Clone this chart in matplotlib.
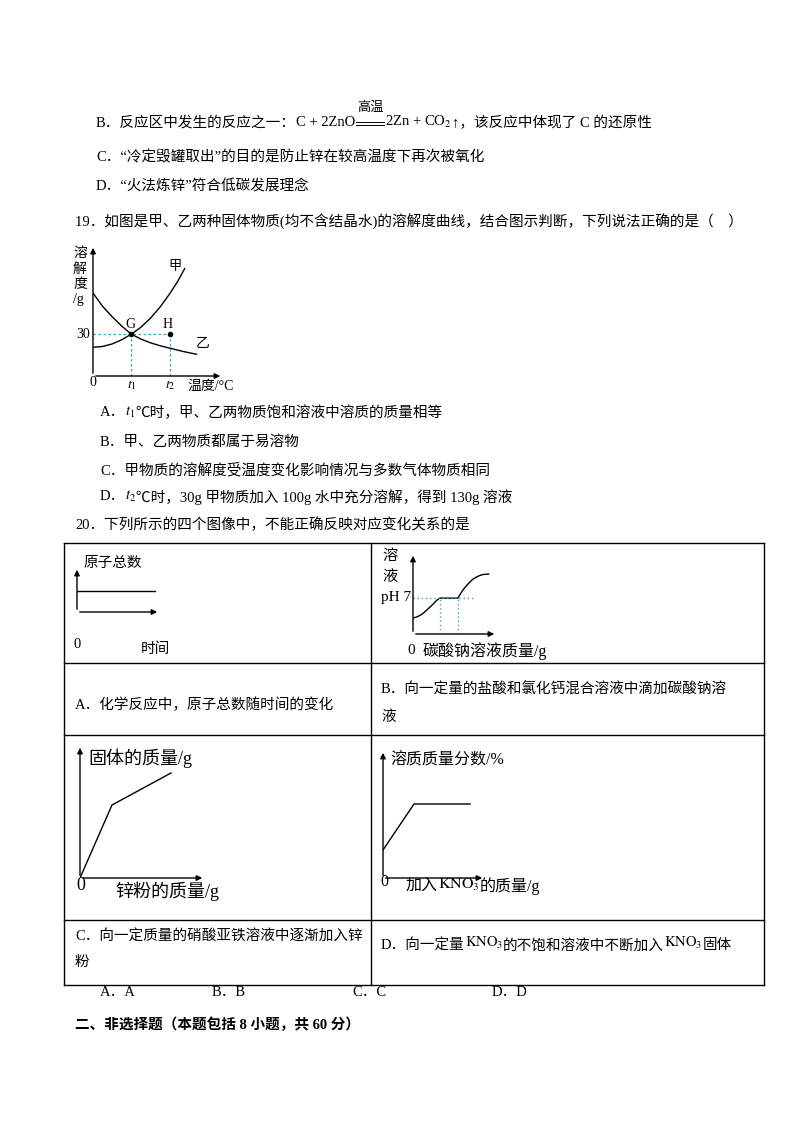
import matplotlib.pyplot as plt
import numpy as np

plt.rcParams['font.family'] = ['Liberation Serif', 'Noto Sans CJK SC']
plt.rcParams['mathtext.fontset'] = 'stix'

# solubility curves (t1=1, t2=2)
jia_x = [0, 0.25, 0.5, 0.75, 1, 1.25, 1.5, 1.75, 2, 2.2, 2.39]
jia_y = [20.6, 21.2, 23, 26, 30, 35, 41.5, 49.5, 59, 67.5, 77]
yi_x = [0, 0.25, 0.5, 0.75, 1, 1.25, 1.5, 1.75, 2, 2.35, 2.7]
yi_y = [59.5, 50, 42.5, 35.8, 30, 26.5, 23.8, 21.7, 20, 17.6, 15.6]
# pH curve
ph_x = [0, 1, 2, 3, 4, 5, 6, 7, 8, 13.5, 14, 15, 16, 17, 18, 19, 20, 21, 22.7]
ph_y = [3.1, 3.3, 3.6, 4.0, 4.6, 5.2, 5.8, 6.5, 7, 7, 7.6, 8.6, 9.4, 10.1, 10.7, 11.1, 11.4, 11.6, 11.7]
# solid mass / solute fraction
solid_x = [0, 32, 91]
solid_y = [0, 73, 105]
frac_x = [0, 31, 87]
frac_y = [28, 74, 74]

fig = plt.figure(figsize=(8, 11.32), dpi=100)
bg = fig.add_axes([0, 0, 1, 1])
bg.set_xlim(0, 800); bg.set_ylim(1132, 0); bg.axis('off')
rend = fig.canvas.get_renderer()
fs = 10.5

def t(x, y, s, **kw):
    kw.setdefault('fontsize', fs)
    return bg.text(x, y, s, va='center', ha=kw.pop('ha', 'left'), **kw)

def line(x, y, parts, **kw):
    # draw text pieces one after another (mathtext pieces lose the CJK fallback)
    for p in parts:
        dy = 0
        if isinstance(p, tuple):
            p, dy = p
        txt = t(x, y + dy, p, **kw)
        bb = txt.get_window_extent(rend)
        x += bb.width * 800 / fig.bbox.width
    return x

x = line(96, 123, ["B．反应区中发生的反应之一：", "C + 2ZnO"]) + 1
bg.plot([x, x + 28], [122, 122], color='k', lw=0.7)
bg.plot([x, x + 28], [125, 125], color='k', lw=0.7)
t(x + 14, 108, "高温", ha='center', fontsize=9.5)
line(x + 29, 123, [(r"2Zn + CO$_2$", -1), "↑，该反应中体现了 C 的还原性"])
t(96, 157, "C．“冷定毁罐取出”的目的是防止锌在较高温度下再次被氧化")
t(96, 187, "D．“火法炼锌”符合低碳发展理念")
t(75, 222, "19．如图是甲、乙两种固体物质(均不含结晶水)的溶解度曲线，结合图示判断，下列说法正确的是（    ）")
line(100, 413, ["A．", ("$t_1$", -1), "℃时，甲、乙两物质饱和溶液中溶质的质量相等"])
t(100, 442, "B．甲、乙两物质都属于易溶物")
t(100, 470, "C．甲物质的溶解度受温度变化影响情况与多数气体物质相同")
line(100, 497, ["D．", ("$t_2$", -1), "℃时，30g 甲物质加入 100g 水中充分溶解，得到 130g 溶液"])
t(75, 525, "20．下列所示的四个图像中，不能正确反映对应变化关系的是")

# table
for yy in [543, 663, 735, 920, 985]:
    bg.plot([64, 764], [yy, yy], color='k', lw=1)
for xx in [64, 371, 764]:
    bg.plot([xx, xx], [543, 985], color='k', lw=1)
t(75, 705, "A．化学反应中，原子总数随时间的变化")
t(381, 690, "B．向一定量的盐酸和氯化钙混合溶液中滴加碳酸钠溶")
t(381, 717, "液")
t(75, 937, "C．向一定质量的硝酸亚铁溶液中逐渐加入锌")
t(75, 962, "粉")
line(381, 946, ["D．向一定量", ("$\\mathrm{KNO_3}$", -3), "的不饱和溶液中不断加入", ("$\\mathrm{KNO_3}$", -3), "固体"])
for x, s in zip([100, 212, 352, 492], ["A．A", "B．B", "C．C", "D．D"]):
    t(x, 993, s)
t(75, 1025, "二、非选择题（本题包括 8 小题，共 60 分）", fontweight='bold')

def inset(x0, y0, x1, y1, xlim, ylim):
    ax = fig.add_axes([x0 / 800, 1 - y0 / 1132, (x1 - x0) / 800, (y0 - y1) / 1132])
    ax.set_xlim(*xlim); ax.set_ylim(*ylim); ax.axis('off')
    ax.set_zorder(2); ax.patch.set_alpha(0)
    kw = dict(arrowprops=dict(arrowstyle='-|>', color='k', lw=1, mutation_scale=8),
              xycoords='axes fraction', textcoords='axes fraction')
    ax.annotate('', xy=(1, 0), xytext=(0, 0), **kw)
    ax.annotate('', xy=(0, 1), xytext=(0, 0), **kw)
    return ax

# graph 19
ax = inset(93, 376, 223, 245, (0, 3.39), (0, 94))
ax.plot(jia_x, jia_y, color='k', lw=1)
ax.plot(yi_x, yi_y, color='k', lw=1)
ax.plot([0, 2], [30, 30], ls=(0, (2, 2)), color='#2aa7d8', lw=0.9)
for xx in [1, 2]:
    ax.plot([xx, xx], [0, 30], ls=(0, (2, 2)), color='#2aa7d8', lw=0.9)
ax.plot([1, 2], [30, 30], 'ko', ms=3)
t(73, 253, "溶", fontsize=10); t(73, 269, "解", fontsize=10)
t(73, 285, "度", fontsize=10); t(73, 300, "/g", fontsize=10)
t(168, 267, "甲", fontsize=9.5); t(196, 344, "乙", fontsize=10)
t(125, 324, "G", fontsize=10); t(163, 325, "H", fontsize=10)
t(76, 335, "30", fontsize=10)
t(89, 383, "0", fontsize=10)
t(127, 385, "$t_1$", fontsize=10); t(165, 385, "$t_2$", fontsize=10)
t(187, 386, "温度/°C", fontsize=10)

# graph A
ax = inset(77, 612, 160, 567, (0, 1), (0, 1))
ax.plot([0, 0.94], [0.47, 0.47], color='k', lw=1)
t(83, 563, "原子总数"); t(73, 645, "0"); t(141, 649, "时间")

# graph B
ax = inset(413, 634, 497, 553, (0, 25.2), (0, 15.8))
ax.plot(ph_x, ph_y, color='k', lw=1)
ax.plot([0, 18.5], [7, 7], ls=(0, (1, 2)), color='#2aa7d8', lw=1)
for xx in [8, 13.5]:
    ax.plot([xx, xx], [0, 7], ls=(0, (1, 2)), color='#2aa7d8', lw=1)
t(382, 556, "溶", fontsize=11); t(382, 577, "液", fontsize=11)
t(381, 598, "pH 7", fontsize=11)
t(407, 650, "0", fontsize=11); t(423, 651, "碳酸钠溶液质量/g", fontsize=11.5)

# graph C
ax = inset(80, 878, 205, 745, (0, 125), (0, 133))
ax.plot(solid_x, solid_y, color='k', lw=1)
t(88, 758, "固体的质量/g", fontsize=13)
t(76, 885, "0", fontsize=13); t(115, 891, "锌粉的质量/g", fontsize=13)

# graph D
ax = inset(383, 878, 485, 750, (0, 102), (0, 128))
ax.plot(frac_x, frac_y, color='k', lw=1)
t(390, 761, "溶质质量分数/%", fontsize=11.5)
t(380, 882, "0", fontsize=11.5)
line(406, 886, ["加入", ("$\\mathrm{KNO_3}$", -1), "的质量/g"], fontsize=11.5)

fig.savefig('out.png', dpi=100)
